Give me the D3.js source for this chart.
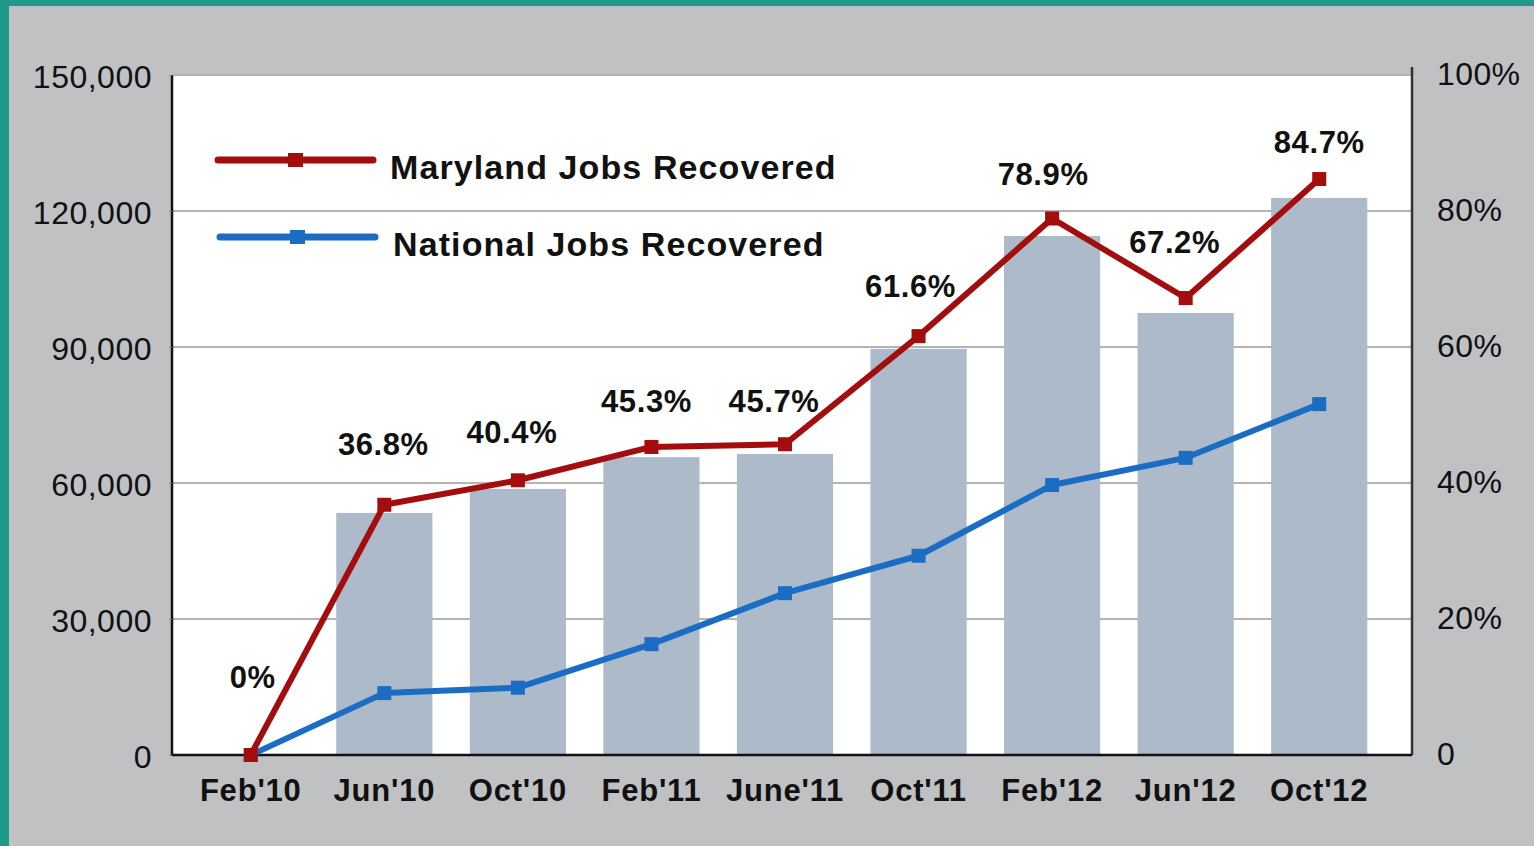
<!DOCTYPE html>
<html>
<head>
<meta charset="utf-8">
<script src="https://cdn.jsdelivr.net/npm/d3@7/dist/d3.min.js"></script>
<style>
  html, body { margin: 0; padding: 0; background: #c0c1c3; }
  svg { display: block; }
  text { font-family: "Liberation Sans", Arial, sans-serif; fill: #111; }
</style>
</head>
<body>
<svg id="chart" width="1534" height="846"></svg>
<script>
// data
const months = ["Feb'10", "Jun'10", "Oct'10", "Feb'11", "June'11", "Oct'11", "Feb'12", "Jun'12", "Oct'12"];
const jobsRecovered = [0, 53400, 58700, 65700, 66400, 89600, 114500, 97500, 122900];   // bars, left axis
const marylandPct = [0, 36.8, 40.4, 45.3, 45.7, 61.6, 78.9, 67.2, 84.7];             // red line, right axis
const nationalPct = [0, 9.1, 9.9, 16.3, 23.8, 29.3, 39.7, 43.7, 51.6];               // blue line, right axis
const leftTicks = [0, 30000, 60000, 90000, 120000, 150000];
const rightTicks = [0, 20, 40, 60, 80, 100];
const legendNames = ["Maryland Jobs Recovered", "National Jobs Recovered"];

// small nudges for the % labels so they sit like the original (layout only)
const labelNudge = [[2, -67], [-1, -50], [-6, -37], [-5, -35], [-11, -32], [-8, -39], [-9, -33], [-11, -45], [0, -26]];

const W = 1534, H = 846;
const plot = {left: 172, right: 1412, top: 75, bottom: 755};
const red = '#a40d0d', blue = '#1b6dc4', barColor = '#adbaca';

const svg = d3.select('#chart');

// frame
svg.append('rect').attr('width', W).attr('height', H).attr('fill', '#c0c1c3');
svg.append('rect').attr('width', 9).attr('height', H).attr('fill', '#1f9a88');
svg.append('rect').attr('width', W).attr('height', 6).attr('fill', '#1f9a88');

svg.append('rect')
    .attr('x', plot.left).attr('y', plot.top)
    .attr('width', plot.right - plot.left).attr('height', plot.bottom - plot.top)
    .attr('fill', '#fff');

const x = d3.scaleBand().domain(months)
    .range([plot.left + 12, plot.right - 26])
    .paddingInner(0.28).paddingOuter(0.14);
const yL = d3.scaleLinear().domain([0, 150000]).range([plot.bottom, plot.top]);
const yR = d3.scaleLinear().domain([0, 100]).range([plot.bottom, plot.top]);
const cx = m => x(m) + x.bandwidth() / 2;

// gridlines
svg.append('g').selectAll('line').data(leftTicks.slice(1)).join('line')
    .attr('x1', plot.left).attr('x2', plot.right)
    .attr('y1', d => yL(d)).attr('y2', d => yL(d))
    .attr('stroke', '#b4b4b4').attr('stroke-width', 2);

// bars
svg.append('g').selectAll('rect').data(months).join('rect')
    .attr('x', d => x(d))
    .attr('width', x.bandwidth())
    .attr('y', (d, i) => yL(jobsRecovered[i]))
    .attr('height', (d, i) => plot.bottom - yL(jobsRecovered[i]))
    .attr('fill', barColor);

// axes (drawn by d3, then restyled)
const leftAxis = svg.append('g')
    .attr('transform', `translate(${plot.left},0)`)
    .call(d3.axisLeft(yL).tickValues(leftTicks).tickFormat(d3.format(',')).tickSize(3).tickPadding(17));
const rightAxis = svg.append('g')
    .attr('transform', `translate(${plot.right},0)`)
    .call(d3.axisRight(yR).tickValues(rightTicks).tickFormat(d => d === 0 ? '0' : d + '%').tickSize(0).tickPadding(25));
const bottomAxis = svg.append('g')
    .attr('transform', `translate(0,${plot.bottom})`)
    .call(d3.axisBottom(x).tickSize(0).tickPadding(24));

[leftAxis, rightAxis, bottomAxis].forEach(a => {
  a.select('.domain').attr('stroke', '#111').attr('stroke-width', 2.5);
  a.selectAll('.tick line').attr('stroke', '#888');
  a.selectAll('.tick text').attr('fill', '#111').style('font-family', '"Liberation Sans", Arial, sans-serif');
});
leftAxis.selectAll('.tick text').style('font-size', '32px').style('letter-spacing', '0.5px').attr('dy', '0.38em');
rightAxis.selectAll('.tick text').style('font-size', '32px').style('letter-spacing', '0.4px').attr('dy', '0.3em');
bottomAxis.selectAll('.tick text').style('font-size', '31px').style('font-weight', 'bold').style('letter-spacing', '0.8px');
leftAxis.select('.domain').attr('d', `M0,${plot.top}V${plot.bottom}`);
rightAxis.select('.domain').attr('d', `M0,${plot.top - 8}V${plot.bottom}`).attr('stroke', '#333');
bottomAxis.select('.domain').attr('d', `M${plot.left},0H${plot.right}`);

// lines
const series = [
  {values: nationalPct, color: blue},
  {values: marylandPct, color: red}
];
const line = d3.line().x(d => cx(d.m)).y(d => yR(d.v));
series.forEach(s => {
  const pts = months.map((m, i) => ({m: m, v: s.values[i]}));
  svg.append('path').datum(pts)
      .attr('d', line)
      .attr('fill', 'none')
      .attr('stroke', s.color)
      .attr('stroke-width', 6)
      .attr('stroke-linejoin', 'round');
  svg.append('g').selectAll('rect').data(pts).join('rect')
      .attr('x', d => cx(d.m) - 7).attr('y', d => yR(d.v) - 7)
      .attr('width', 14).attr('height', 14)
      .attr('fill', s.color);
});

// % labels for Maryland
svg.append('g').selectAll('text').data(months).join('text')
    .attr('x', (d, i) => cx(d) + labelNudge[i][0])
    .attr('y', (d, i) => yR(marylandPct[i]) + labelNudge[i][1])
    .attr('text-anchor', 'middle')
    .style('font-size', '31px').style('font-weight', 'bold').style('letter-spacing', '0.6px')
    .text((d, i) => marylandPct[i] + '%');

// legend
const legend = svg.append('g').attr('transform', 'translate(218,160)');
[red, blue].forEach((c, i) => {
  const g = legend.append('g').attr('transform', `translate(${i * 2},${i * 77})`);
  g.append('line').attr('x1', 0).attr('x2', 155).attr('y1', 0).attr('y2', 0)
      .attr('stroke', c).attr('stroke-width', 7).attr('stroke-linecap', 'round');
  g.append('rect').attr('x', 70).attr('y', -7).attr('width', 15).attr('height', 14).attr('fill', c);
  g.append('text').attr('x', 172 + i).attr('y', 19)
      .style('font-size', '34px').style('font-weight', 'bold').style('letter-spacing', '1.1px')
      .text(legendNames[i]);
});
</script>
</body>
</html>
